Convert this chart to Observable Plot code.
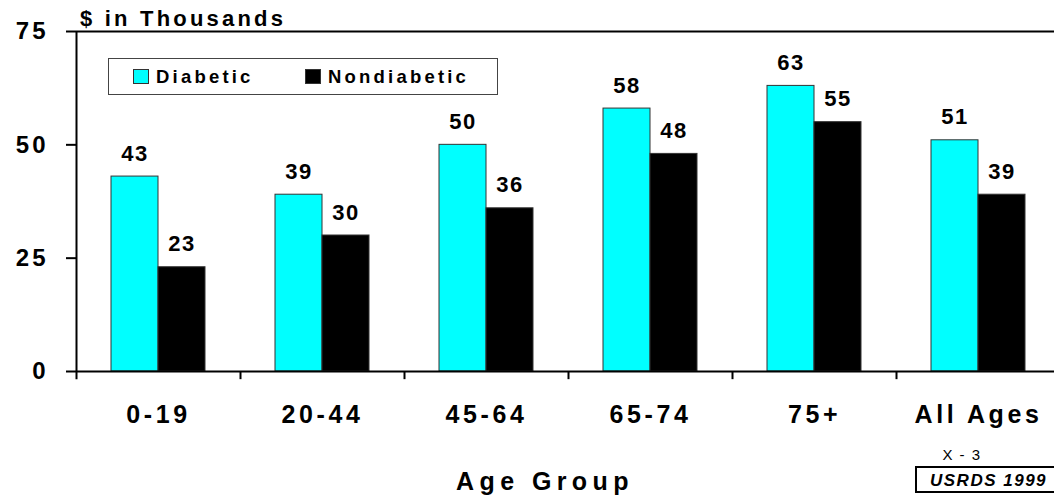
<!DOCTYPE html>
<html>
<head>
<meta charset="utf-8">
<script src="https://cdn.jsdelivr.net/npm/d3@7"></script>
<script src="https://cdn.jsdelivr.net/npm/@observablehq/plot@0.6"></script>
<style>
  html, body { margin: 0; padding: 0; background: #fff; }
  #chart svg { display: block; }
</style>
</head>
<body>
<div id="chart"></div>
<script>
const groups = ["0-19", "20-44", "45-64", "65-74", "75+", "All Ages"];
const diabetic = [43, 39, 50, 58, 63, 51];
const nondiabetic = [23, 30, 36, 48, 55, 39];
const seriesNames = ["Diabetic", "Nondiabetic"];
const seriesColors = ["#00FFFF", "#000000"];
const yTicks = [0, 25, 50, 75];
const yTitle = "$ in Thousands";
const xTitle = "Age Group";
const pageNote = "X - 3";
const sourceNote = "USRDS 1999";

const rows = groups.flatMap((g, i) => [
  {group: g, series: seriesNames[0], value: diabetic[i]},
  {group: g, series: seriesNames[1], value: nondiabetic[i]}
]);
const dRows = rows.filter(d => d.series === seriesNames[0]);
const nRows = rows.filter(d => d.series === seriesNames[1]);

const FONT = "Liberation Sans, Arial, Helvetica, sans-serif";
const step = 164, half = step / 2, barW = 47;

const chart = Plot.plot({
  width: 1054,
  height: 496,
  marginLeft: 76,
  marginTop: 31,
  marginBottom: 125,
  marginRight: 0,
  style: {fontFamily: FONT, fontSize: "24px", fontWeight: "bold", color: "#000", background: "#fff"},
  x: {domain: groups, range: [76, 76 + 6 * step], paddingInner: 0.4268, paddingOuter: 0.2134,
      tickSize: 0, tickPadding: 34, label: null},
  y: {domain: [0, 75], range: [371, 31], ticks: yTicks, tickSize: 10, tickPadding: 18,
      tickFormat: d => String(d), label: null},
  marks: [
    Plot.barY(dRows, {x: "group", y: "value", fill: seriesColors[0], stroke: "#333", strokeWidth: 1, insetRight: barW}),
    Plot.barY(nRows, {x: "group", y: "value", fill: seriesColors[1], stroke: "#333", strokeWidth: 1, insetLeft: barW}),
    Plot.text(dRows, {x: "group", y: "value", text: d => String(d.value), dx: -barW / 2, dy: -23,
      fontSize: 22, fontWeight: "bold", fill: "#000", fontFamily: FONT}),
    Plot.text(nRows, {x: "group", y: "value", text: d => String(d.value), dx: barW / 2, dy: -23,
      fontSize: 22, fontWeight: "bold", fill: "#000", fontFamily: FONT}),
    Plot.ruleY([0, 75], {stroke: "#000", strokeWidth: 2}),
    Plot.ruleX(groups.slice(0, 1), {x: d => d, dx: -half, y1: -1.8, y2: 75, stroke: "#000", strokeWidth: 2}),
    Plot.ruleX(groups.slice(1), {x: d => d, dx: -half, y1: -1.8, y2: 0, stroke: "#000", strokeWidth: 2})
  ]
});

const svg = d3.select(chart.tagName.toLowerCase() === "svg" ? chart : chart.querySelector("svg"));
svg.selectAll('g[aria-label^="x-axis"] text').style("letter-spacing", "3.6px").style("font-size", "25px");
svg.selectAll('g[aria-label^="y-axis"] text').style("letter-spacing", "3px").style("font-size", "24px");
svg.selectAll('g[aria-label^="y-axis"] line, g[aria-label^="y-axis"] path').attr("stroke-width", 2).attr("stroke", "#000");
svg.selectAll('g[aria-label="text"] text').style("letter-spacing", "1.5px");

function addText(x, y, str, opts) {
  const t = svg.append("text").attr("x", x).attr("y", y)
    .attr("font-family", FONT)
    .attr("text-anchor", opts.anchor || "start")
    .attr("font-size", opts.size)
    .attr("font-weight", opts.weight || "bold")
    .attr("font-style", opts.style || "normal")
    .attr("fill", "#000")
    .style("letter-spacing", (opts.spacing || 0) + "px")
    .text(str);
  return t;
}

// Title above the y axis
addText(80, 26, yTitle, {size: 22, spacing: 3.2});

// Legend
svg.append("rect").attr("x", 108.5).attr("y", 58.5).attr("width", 389).attr("height", 36)
  .attr("fill", "#fff").attr("stroke", "#444").attr("stroke-width", 1);
const legendX = [133, 305];
seriesNames.forEach((name, i) => {
  svg.append("rect").attr("x", legendX[i] + 0.5).attr("y", 69.5).attr("width", 15).attr("height", 14)
    .attr("fill", seriesColors[i]).attr("stroke", "#333").attr("stroke-width", 1);
  addText(legendX[i] + 23, 83, name, {size: 18.5, spacing: 3.2});
});

// X axis title
addText(545, 490, xTitle, {size: 25, spacing: 5.4, anchor: "middle"});

// Page note and source box
addText(962, 460, pageNote, {size: 15, spacing: 1.5, weight: "normal", anchor: "middle"});
svg.append("rect").attr("x", 916).attr("y", 467).attr("width", 140).attr("height", 25)
  .attr("fill", "#fff").attr("stroke", "#000").attr("stroke-width", 2);
addText(930, 486, sourceNote, {size: 17, spacing: 1.5, style: "italic"});

document.getElementById("chart").appendChild(chart);
</script>
</body>
</html>
